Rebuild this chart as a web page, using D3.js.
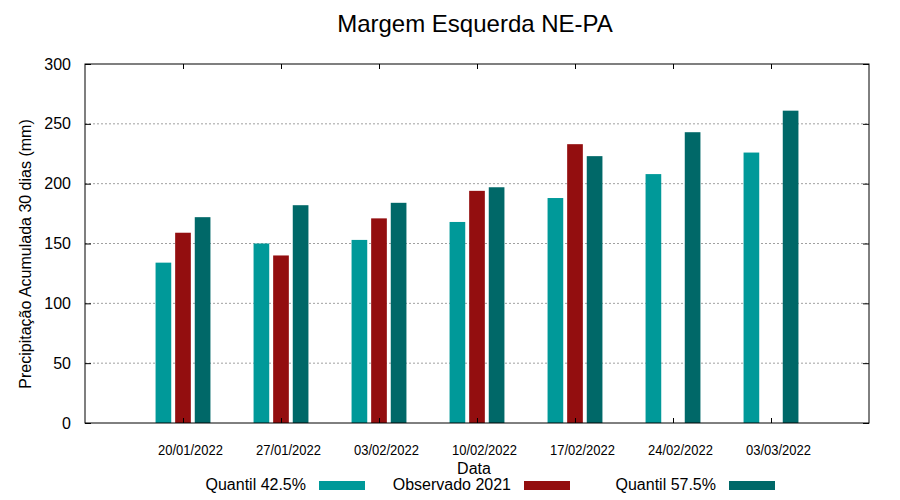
<!DOCTYPE html>
<html lang="pt">
<head>
  <meta charset="UTF-8">
  <title>Margem Esquerda NE-PA</title>
  <script src="https://d3js.org/d3.v7.min.js"></script>
  <style>
    body { margin: 0; background: #fff; }
    text { font-family: "Liberation Sans", Arial, sans-serif; fill: #000; }
  </style>
</head>
<body>
  <svg width="900" height="500"></svg>
  <script>
    // dados
    const datas = ["20/01/2022", "27/01/2022", "03/02/2022", "10/02/2022", "17/02/2022", "24/02/2022", "03/03/2022"];
    const quantil425 = [134, 150, 153, 168, 188, 208, 226];
    const observado2021 = [159, 140, 171, 194, 233, null, null];
    const quantil575 = [172, 182, 184, 197, 223, 243, 261];
    const yTicks = [0, 50, 100, 150, 200, 250, 300];

    const series = [
      { nome: "Quantil 42.5%", valores: quantil425, cor: "#009999", offset: -0.2 },
      { nome: "Observado 2021", valores: observado2021, cor: "#930e0f", offset: 0 },
      { nome: "Quantil 57.5%", valores: quantil575, cor: "#006868", offset: 0.2 }
    ];

    const svg = d3.select("svg");
    const mLeft = 85, mRight = 869, mTop = 64, mBottom = 423;

    const x = d3.scaleLinear().domain([-1, 7]).range([mLeft, mRight]);
    const y = d3.scaleLinear().domain([0, 300]).range([mBottom, mTop]);
    const barW = x(0.16) - x(0);

    // grade horizontal
    svg.append("g").selectAll("line")
      .data(yTicks.filter(d => d > 0 && d < 300))
      .enter().append("line")
      .attr("x1", mLeft).attr("x2", mRight)
      .attr("y1", d => y(d)).attr("y2", d => y(d))
      .attr("stroke", "#a0a0a0")
      .attr("stroke-dasharray", "2,2");

    // barras
    series.forEach(s => {
      svg.append("g").selectAll("rect")
        .data(s.valores.map((v, i) => ({ v, i })).filter(d => d.v != null))
        .enter().append("rect")
        .attr("x", d => x(d.i + s.offset) - barW / 2)
        .attr("width", barW)
        .attr("y", d => y(d.v))
        .attr("height", d => y(0) - y(d.v))
        .attr("fill", s.cor);
    });

    // moldura e ticks
    svg.append("rect")
      .attr("x", mLeft).attr("y", mTop)
      .attr("width", mRight - mLeft).attr("height", mBottom - mTop)
      .attr("fill", "none").attr("stroke", "#000").attr("stroke-width", 1);

    const yAxis = d3.axisLeft(y).tickValues(yTicks).tickSize(-6).tickPadding(14);
    const gy = svg.append("g").attr("transform", `translate(${mLeft},0)`).call(yAxis);
    gy.select(".domain").remove();
    gy.selectAll("text").style("font-size", "16px").style("font-family", "Liberation Sans, Arial, sans-serif");

    const yAxisR = d3.axisRight(y).tickValues(yTicks).tickSize(-6).tickFormat("");
    const gyr = svg.append("g").attr("transform", `translate(${mRight},0)`).call(yAxisR);
    gyr.select(".domain").remove();

    const idx = datas.map((d, i) => i);
    const xAxis = d3.axisBottom(x).tickValues(idx).tickSize(-5).tickFormat("");
    const gx = svg.append("g").attr("transform", `translate(0,${mBottom})`).call(xAxis);
    gx.select(".domain").remove();
    const xAxisT = d3.axisTop(x).tickValues(idx).tickSize(-5).tickFormat("");
    const gxt = svg.append("g").attr("transform", `translate(0,${mTop})`).call(xAxisT);
    gxt.select(".domain").remove();

    svg.append("g").selectAll("text")
      .data(datas)
      .enter().append("text")
      .attr("x", (d, i) => x(i) + 7.5)
      .attr("y", 455)
      .attr("text-anchor", "middle")
      .style("font-size", "14px")
      .attr("textLength", 65)
      .attr("lengthAdjust", "spacingAndGlyphs")
      .text(d => d);

    // titulos
    svg.append("text")
      .attr("x", 475).attr("y", 32)
      .attr("text-anchor", "middle")
      .style("font-size", "24px")
      .text("Margem Esquerda NE-PA");

    svg.append("text")
      .attr("transform", "translate(31,254) rotate(-90)")
      .attr("text-anchor", "middle")
      .style("font-size", "16px")
      .text("Precipitação Acumulada 30 dias (mm)");

    svg.append("text")
      .attr("x", 474).attr("y", 474)
      .attr("text-anchor", "middle")
      .style("font-size", "16px")
      .text("Data");

    // legenda
    const leg = svg.append("g").selectAll("g")
      .data(series)
      .enter().append("g")
      .attr("transform", (d, i) => `translate(${319 + i * 205},0)`);
    leg.append("text")
      .attr("x", -13).attr("y", 490)
      .attr("text-anchor", "end")
      .style("font-size", "16px")
      .text(d => d.nome);
    leg.append("rect")
      .attr("x", 0).attr("y", 481)
      .attr("width", 46).attr("height", 9)
      .attr("fill", d => d.cor);
  </script>
</body>
</html>
